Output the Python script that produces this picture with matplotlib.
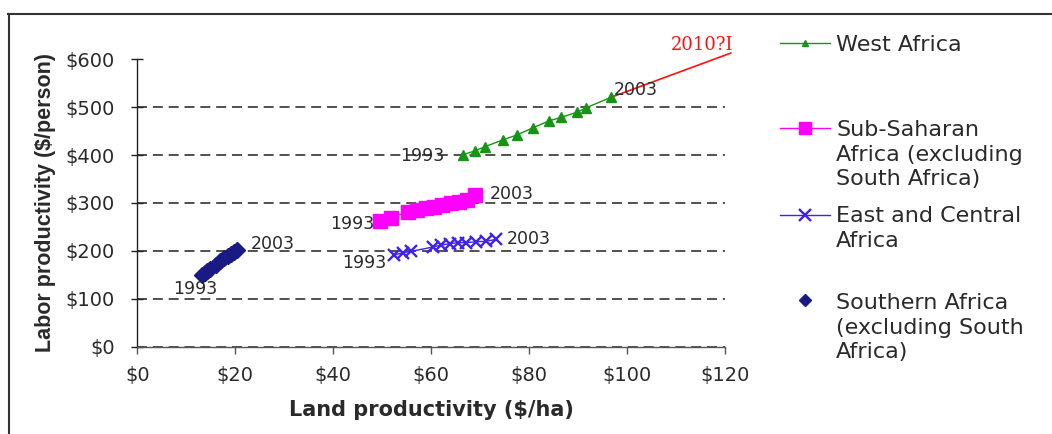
import matplotlib
matplotlib.use("Agg")
import matplotlib.pyplot as plt
from matplotlib.lines import Line2D
from matplotlib.ticker import FuncFormatter

plt.rcParams['font.family'] = ['DejaVu Sans']

# Land productivity ($/ha) and labor productivity ($/person), 1993-2003
west_land = [66.5, 69.0, 71.1, 74.7, 77.5, 80.8, 84.2, 86.6, 89.9, 91.7, 96.8]
west_labor = [401, 409, 418, 432, 442, 457, 472, 479, 490, 499, 521]

ssa_land = [49.5, 51.9, 55.3, 57.1, 58.9, 60.6, 62.3, 64.0, 65.7, 67.4, 69.1]
ssa_labor = [262, 269, 282, 285, 289, 292, 296, 299, 303, 307, 317]

east_land = [52.5, 54.2, 56.0, 60.4, 62.1, 63.8, 65.5, 67.2, 69.2, 71.3, 73.3]
east_labor = [191, 196, 199, 208, 212, 215, 217, 217, 219, 220, 224]

south_land = [13.3, 13.8, 14.2, 14.8, 16.1, 16.9, 17.8, 18.5, 19.2, 19.8, 20.4]
south_labor = [150, 153, 157, 162, 171, 178, 184, 189, 194, 198, 202]

series_names = ["West Africa",
                "Sub-Saharan\nAfrica (excluding\nSouth Africa)",
                "East and Central\nAfrica",
                "Southern Africa\n(excluding South\nAfrica)"]
start_label, end_label = "1993", "2003"
projection_label = "2010?I"

x_ticks = [0, 20, 40, 60, 80, 100, 120]
y_ticks = [0, 100, 200, 300, 400, 500, 600]

W, H = 1052, 434
def fx(px):
    return px / W
def fy(py):
    return 1 - py / H

GREEN = '#159415'
MAGENTA = '#FF00FF'
VIOLET = '#3F22EE'
NAVY = '#1A1A85'
TXT = '#2a2a2a'

fig = plt.figure(figsize=(W / 100, H / 100), dpi=100)
ax = fig.add_axes([fx(137.3), fy(346.5), fx(724.6) - fx(137.3), fy(59.5) - fy(346.5)])

ax.plot(west_land, west_labor, color=GREEN, lw=1.0, marker='^', ms=6.5,
        mfc=GREEN, mec=GREEN, zorder=4)
ax.plot(ssa_land, ssa_labor, color=MAGENTA, lw=1.0, marker='s', ms=9.5,
        mfc=MAGENTA, mec=MAGENTA, zorder=4)
ax.plot(east_land, east_labor, color=VIOLET, lw=1.0, marker='x', ms=8.5,
        mew=1.7, zorder=4)
ax.plot(south_land, south_labor, color=NAVY, lw=0, marker='D', ms=8,
        mfc=NAVY, mec=NAVY, zorder=4)

ax.set_xlim(0, 120)
ax.set_ylim(0, 600)
ax.set_xticks(x_ticks)
ax.set_yticks(y_ticks)
money = FuncFormatter(lambda v, p: f"${v:.0f}")
ax.xaxis.set_major_formatter(money)
ax.yaxis.set_major_formatter(money)

for s in ('top', 'right'):
    ax.spines[s].set_visible(False)
ax.spines['left'].set_color('#222222')
ax.spines['bottom'].set_color('#555555')
ax.spines['left'].set_linewidth(1.0)
ax.spines['bottom'].set_linewidth(1.0)

ax.tick_params(axis='y', direction='inout', length=8, width=1.0, color='#222222',
               labelsize=14, labelcolor=TXT, pad=12)
ax.tick_params(axis='x', direction='out', length=5, width=1.0, color='#555555',
               labelsize=14, labelcolor=TXT, pad=9)

ax.yaxis.grid(True, color='#333333', lw=1.2, linestyle=(0, (6, 3.5)))
ax.set_axisbelow(True)
ax.set_ylabel("Labor productivity ($/person)", fontsize=15.5, fontweight='bold',
              color=TXT, labelpad=7, family=['Liberation Sans', 'DejaVu Sans'])
ax.set_xlabel("Land productivity ($/ha)", fontsize=15, fontweight='bold',
              color=TXT, labelpad=11)

# Year annotations at the first and last point of each series
def year_label(text, x, y, dx, dy, ha):
    ax.annotate(text, xy=(x, y), xytext=(dx, dy), textcoords='offset pixels',
                ha=ha, va='center', fontsize=12.5, color=TXT, zorder=5)

year_label(start_label, west_land[0], west_labor[0], -18, -1, 'right')
year_label(end_label, west_land[-1], west_labor[-1], 3, 7, 'left')
year_label(start_label, ssa_land[0], ssa_labor[0], -5, -3, 'right')
year_label(end_label, ssa_land[-1], ssa_labor[-1], 14, 1, 'left')
year_label(start_label, east_land[0], east_labor[0], -8, -8, 'right')
year_label(end_label, east_land[-1], east_labor[-1], 11, 0, 'left')
year_label(start_label, south_land[0], south_labor[0], -7, -14, 'center')
year_label(end_label, south_land[-1], south_labor[-1], 14, 6, 'left')

# Hand-drawn projection line and note
ax.annotate('', xy=(west_land[-1], west_labor[-1]), xycoords='data',
            xytext=(731, H - 53), textcoords='figure pixels',
            arrowprops=dict(arrowstyle='-', color='#FF1010', lw=1.2,
                            shrinkA=0, shrinkB=0), annotation_clip=False)
fig.text(fx(733), fy(50), projection_label, ha='right', va='baseline',
         color='#FF1010', fontsize=13, family=['DejaVu Serif'])

# Legend drawn beside the plot (y positions: handle centre, last-line baseline)
legend_rows = [
    (series_names[0], 43, 50.7, dict(color=GREEN, marker='^', ms=5, mfc=GREEN, mec=GREEN), True),
    (series_names[1], 128, 185, dict(color=MAGENTA, marker='s', ms=8.5, mfc=MAGENTA, mec=MAGENTA), True),
    (series_names[2], 215, 246.7, dict(color=VIOLET, marker='x', ms=8, mew=1.7), True),
    (series_names[3], 300, 358, dict(color=NAVY, marker='D', ms=6.5, mfc=NAVY, mec=NAVY), False),
]
for label, yc, base, style, with_line in legend_rows:
    if with_line:
        fig.add_artist(Line2D([fx(780), fx(830)], [fy(yc), fy(yc)], lw=1.0,
                              color=style['color'], transform=fig.transFigure))
    fig.add_artist(Line2D([fx(805)], [fy(yc)], lw=0, transform=fig.transFigure, **style))
    fig.text(fx(836), fy(base), label, ha='left', va='baseline', fontsize=16,
             color=TXT, linespacing=1.28)

# Outer frame
fig.add_artist(Line2D([fx(8), 1.0], [fy(14), fy(14)], lw=1.5, color='#333333',
                      transform=fig.transFigure))
fig.add_artist(Line2D([fx(9), fx(9)], [fy(14), 0.0], lw=1.5, color='#333333',
                      transform=fig.transFigure))

fig.savefig("out.png", dpi=100)
